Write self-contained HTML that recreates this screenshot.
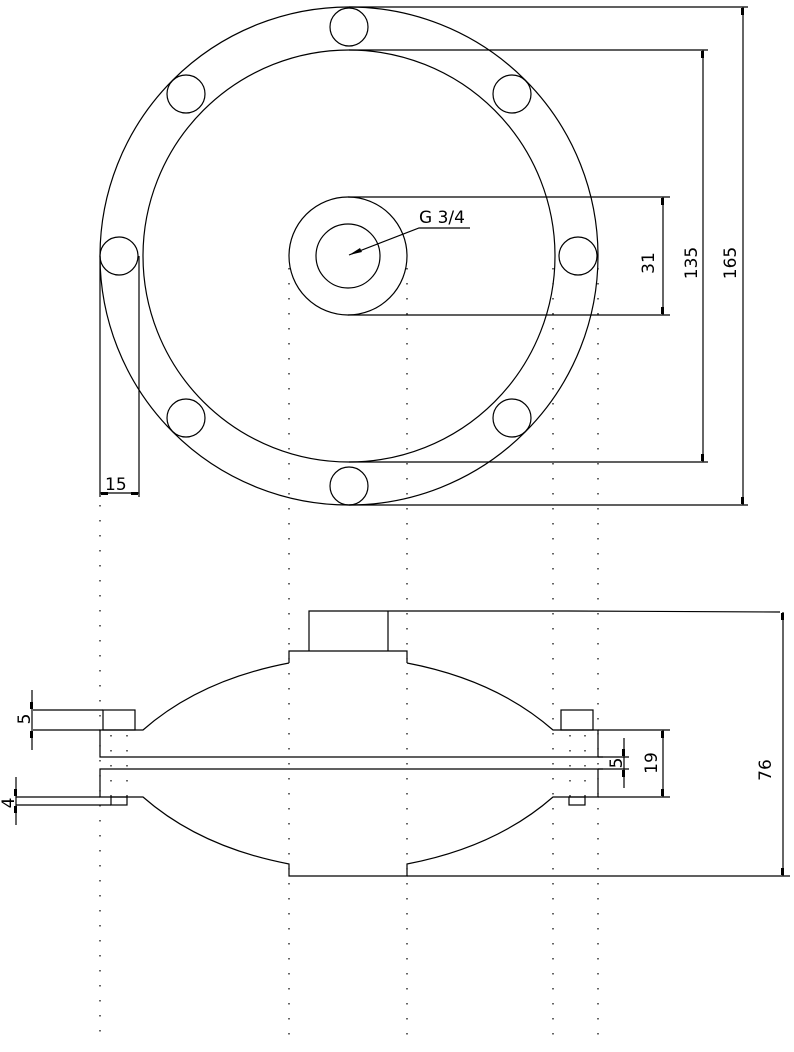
<!DOCTYPE html>
<html><head><meta charset="utf-8"><style>html,body{margin:0;padding:0;background:#fff}svg{display:block}</style></head>
<body>
<svg width="794" height="1052" viewBox="0 0 794 1052" xmlns="http://www.w3.org/2000/svg" font-family="DejaVu Sans, Liberation Sans, sans-serif" font-size="17">
<g fill="none" stroke="#000" stroke-width="1.2">
<circle cx="349" cy="256" r="249"/>
<circle cx="349" cy="256" r="206"/>
<circle cx="348" cy="256" r="59"/>
<circle cx="348" cy="256" r="32"/>
<circle cx="349" cy="27" r="19"/>
<circle cx="349" cy="486" r="19"/>
<circle cx="119" cy="256" r="19"/>
<circle cx="578" cy="256" r="19"/>
<circle cx="186" cy="94" r="19"/>
<circle cx="512" cy="94" r="19"/>
<circle cx="186" cy="418" r="19"/>
<circle cx="512" cy="418" r="19"/>
<polyline points="349,255 419,228 470,228"/>
<line x1="349" y1="7" x2="748" y2="7"/>
<line x1="349" y1="505" x2="748" y2="505"/>
<line x1="349" y1="50" x2="708" y2="50"/>
<line x1="349" y1="462" x2="708" y2="462"/>
<line x1="348" y1="197" x2="670" y2="197"/>
<line x1="348" y1="315" x2="670" y2="315"/>
<line x1="743" y1="7" x2="743" y2="505"/>
<line x1="703" y1="50" x2="703" y2="462"/>
<line x1="663" y1="197" x2="663" y2="315"/>
<line x1="100" y1="256" x2="100" y2="497"/>
<line x1="139" y1="256" x2="139" y2="497"/>
<line x1="100" y1="493" x2="139" y2="493"/>
<polyline points="309,651 309,611 568,611 780,612"/>
<line x1="388" y1="611" x2="388" y2="651"/>
<polyline points="289,663 289,651 407,651 407,663"/>
<path d="M289,663 Q200,680 143,730 L100,730 L100,757 L603,757"/>
<path d="M407,663 Q496,680 553,730 L598,730 L598,757"/>
<path d="M100,730 L33,730"/>
<path d="M598,730 L670,730"/>
<rect x="103" y="710" width="32" height="20"/>
<rect x="561" y="710" width="32" height="20"/>
<line x1="33" y1="710" x2="103" y2="710"/>
<line x1="32" y1="690" x2="32" y2="750"/>
<path d="M603,769 L100,769 L100,797 L143,797 Q200,847 289,864 L289,876 L407,876 L407,864 Q496,847 553,797 L598,797 L598,769"/>
<line x1="598" y1="757" x2="629" y2="757"/>
<line x1="598" y1="769" x2="629" y2="769"/>
<line x1="624" y1="738" x2="624" y2="788"/>
<line x1="598" y1="797" x2="670" y2="797"/>
<line x1="663" y1="730" x2="663" y2="797"/>
<line x1="407" y1="876" x2="790" y2="876"/>
<line x1="783" y1="612" x2="783" y2="876"/>
<rect x="111" y="797" width="16" height="8"/>
<rect x="569" y="797" width="16" height="8"/>
<line x1="16" y1="797" x2="100" y2="797"/>
<line x1="16" y1="805" x2="111" y2="805"/>
<line x1="16" y1="777" x2="16" y2="825"/>
</g>
<g stroke="#000" stroke-width="1.2" stroke-dasharray="1.5 13.5" fill="none">
<line x1="100" y1="505" x2="100" y2="1040"/>
<line x1="289" y1="268" x2="289" y2="1040"/>
<line x1="407" y1="268" x2="407" y2="1040"/>
<line x1="553" y1="268" x2="553" y2="1040"/>
<line x1="598" y1="268" x2="598" y2="1040"/>
<line x1="111" y1="735" x2="111" y2="797"/>
<line x1="127" y1="735" x2="127" y2="797"/>
<line x1="570" y1="735" x2="570" y2="797"/>
<line x1="585" y1="735" x2="585" y2="797"/>
</g>
<g fill="#000">
<polygon points="349,255 360,248 362,252"/>
<rect x="741" y="8" width="3" height="7"/><rect x="741" y="497" width="3" height="7"/>
<rect x="701" y="51" width="3" height="7"/><rect x="701" y="454" width="3" height="7"/>
<rect x="661" y="198" width="3" height="7"/><rect x="661" y="307" width="3" height="7"/>
<rect x="101" y="492" width="7" height="3"/><rect x="131" y="492" width="7" height="3"/>
<rect x="781" y="613" width="3" height="7"/><rect x="781" y="868" width="3" height="7"/>
<rect x="661" y="731" width="3" height="7"/><rect x="661" y="789" width="3" height="7"/>
<rect x="30" y="702" width="3" height="7"/><rect x="30" y="731" width="3" height="7"/>
<rect x="14" y="789" width="3" height="7"/><rect x="14" y="806" width="3" height="7"/>
<rect x="622" y="749" width="3" height="7"/><rect x="622" y="770" width="3" height="7"/>
<text x="419" y="223">G 3/4</text>
<text x="105" y="490">15</text>
<text transform="translate(654,263) rotate(-90)" text-anchor="middle">31</text>
<text transform="translate(697,263) rotate(-90)" text-anchor="middle">135</text>
<text transform="translate(736,263) rotate(-90)" text-anchor="middle">165</text>
<text transform="translate(657,763) rotate(-90)" text-anchor="middle">19</text>
<text transform="translate(622,763) rotate(-90)" text-anchor="middle">5</text>
<text transform="translate(771,770) rotate(-90)" text-anchor="middle">76</text>
<text transform="translate(30,719) rotate(-90)" text-anchor="middle">5</text>
<text transform="translate(14,803) rotate(-90)" text-anchor="middle">4</text>
</g>
</svg>
</body></html>
